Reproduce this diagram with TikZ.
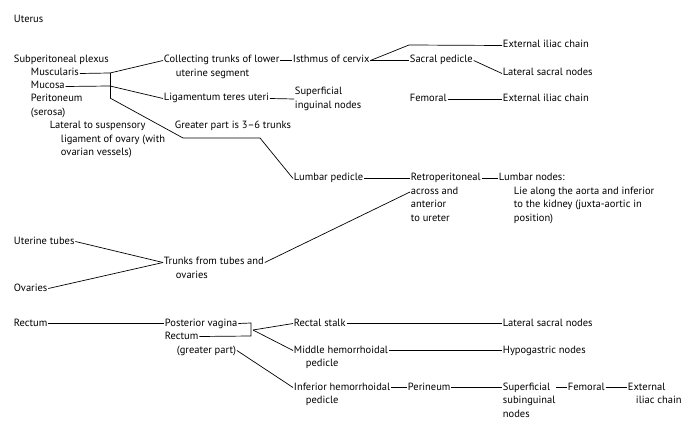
\documentclass[tikz,border=0pt]{standalone}
\usepackage{fontspec}
\setmainfont{PT Sans}
\usepackage{amsmath}
\usetikzlibrary{calc}

% several lines, baseline on the first one
\newcommand{\stk}[1]{\begin{tabular}[t]{@{}l@{}}#1\end{tabular}}

\tikzset{
  lbl/.style={anchor=base west, inner sep=0.75pt, font=\fontsize{10.5}{13.5}\selectfont},
  lnk/.style={line width=0.7pt}
}

\begin{document}
\begin{tikzpicture}[x=1pt,y=1pt,yscale=-1,xscale=1]
\useasboundingbox (0,0) rectangle (700,435);

% Text Node
\node [lbl] (uterus) at (13,23) {Uterus};
% Text Node
\node [lbl] (subper) at (13,63) {Subperitoneal plexus};
\node [lbl] (musc) at (30,76) {Muscularis};
\node [lbl] (mucosa) at (30,89) {Mucosa};
\node [lbl] (perit) at (30,102) {\stk{Peritoneum\\(serosa)}};
\node [lbl] (lateral) at (49,129) {\stk{Lateral to suspensory\\\hspace*{11pt}ligament of ovary (with\\\hspace*{11pt}ovarian vessels)}};
% Text Node
\node [lbl] (collect) at (163,63) {\stk{Collecting trunks of lower\\\hspace*{12pt}uterine segment}};
\node [lbl] (ligam) at (163,101) {Ligamentum teres uteri};
\node [lbl] (greater) at (174,129) {Greater part is 3--6 trunks};
% Text Node
\node [lbl] (isthmus) at (292,63) {Isthmus of cervix};
\node [lbl] (superf) at (294,95) {\stk{Superficial\\inguinal nodes}};
\node [lbl] (sacral) at (409,63) {Sacral pedicle};
\node [lbl] (femoral1) at (409,102) {Femoral};
% Text Node
\node [lbl] (extiliac1) at (502,48) {External iliac chain};
\node [lbl] (latsacral1) at (502,76) {Lateral sacral nodes};
\node [lbl] (extiliac2) at (502,102) {External iliac chain};
% Text Node
\node [lbl] (lumbped) at (293,181) {Lumbar pedicle};
\node [lbl] (retro) at (410,181) {\stk{Retroperitoneal\\across and\\anterior\\to ureter}};
\node [lbl] (lumbnodes) at (498,181) {\stk{Lumbar nodes:\\\hspace*{15pt}Lie along the aorta and inferior\\\hspace*{15pt}to the kidney (juxta-aortic in\\\hspace*{15pt}position)}};
% Text Node
\node [lbl] (tubes) at (13,244) {Uterine tubes};
\node [lbl] (ovaries) at (13,291) {Ovaries};
\node [lbl] (trunks) at (163,265) {\stk{Trunks from tubes and\\\hspace*{12pt}ovaries}};
% Text Node
\node [lbl] (rectum) at (13,326) {Rectum};
\node [lbl] (postvag) at (164,326) {Posterior vagina};
\node [lbl] (rectumb) at (164,339) {Rectum};
\node [lbl] (grpart) at (176,353) {(greater part)};
% Text Node
\node [lbl] (rstalk) at (293,326) {Rectal stalk};
\node [lbl] (midhem) at (293,353) {\stk{Middle hemorrhoidal\\\hspace*{12pt}pedicle}};
\node [lbl] (infhem) at (293,390) {\stk{Inferior hemorrhoidal\\\hspace*{12pt}pedicle}};
\node [lbl] (latsacral2) at (502,326) {Lateral sacral nodes};
\node [lbl] (hypog) at (502,353) {Hypogastric nodes};
\node [lbl] (perineum) at (407,390) {Perineum};
\node [lbl] (subing) at (502,390) {\stk{Superficial\\subinguinal\\nodes}};
\node [lbl] (femoral2) at (567,390) {Femoral};
\node [lbl] (extiliac3) at (627,390) {\stk{External\\\hspace*{8pt}iliac chain}};

% Junctions
\coordinate (jA) at (110,73);
\coordinate (jB) at (110,86);
\coordinate (jC) at (110,98);
\coordinate (bendA) at (183,138);
\coordinate (bendB) at (260,138);
\coordinate (bendC) at (409,45);
\coordinate (jD) at (251,323);
\coordinate (jE) at (251,336);
\coordinate (jF) at (253,330);

%Straight Lines
\draw [lnk] (musc.mid east) -- (jA);
\draw [lnk] (mucosa.mid east) -- (jB);
\draw [lnk] (jA) -- (jC);
\draw [lnk] (jA) -- (collect.mid west);
\draw [lnk] (jB) -- (ligam.mid west);
\draw [lnk] (jC) -- (bendA) -- (bendB) -- (lumbped.mid west);
%Straight Lines
\draw [lnk] (collect.mid east) -- (isthmus.mid west);
\draw [lnk] (isthmus.mid east) -- (bendC) -- (extiliac1.mid west);
\draw [lnk] (isthmus.mid east) -- (sacral.mid west);
\draw [lnk] (sacral.mid east) -- (latsacral1.mid west);
\draw [lnk] (ligam.mid east) -- ($(superf.mid west)+(0,6.5)$);
\draw [lnk] (femoral1.mid east) -- (extiliac2.mid west);
%Straight Lines
\draw [lnk] (lumbped.mid east) -- (retro.mid west);
\draw [lnk] (retro.mid east) -- (lumbnodes.mid west);
\draw [lnk] (trunks.mid east) -- ($(retro.mid west)+(0,13.5)$);
\draw [lnk] (tubes.mid east) -- (trunks.mid west);
\draw [lnk] (ovaries.mid east) -- (trunks.mid west);
%Straight Lines
\draw [lnk] (rectum.mid east) -- (postvag.mid west);
\draw [lnk] (postvag.mid east) -- (jD) -- (jE) -- (rectumb.mid east);
\draw [lnk] (jF) -- (rstalk.mid west);
\draw [lnk] (jF) -- (midhem.mid west);
\draw [lnk] (grpart.mid east) -- (infhem.mid west);
\draw [lnk] (rstalk.mid east) -- (latsacral2.mid west);
\draw [lnk] (midhem.mid east) -- (hypog.mid west);
\draw [lnk] (infhem.mid east) -- (perineum.mid west);
\draw [lnk] (perineum.mid east) -- (subing.mid west);
\draw [lnk] (subing.mid east) -- (femoral2.mid west);
\draw [lnk] (femoral2.mid east) -- (extiliac3.mid west);

\end{tikzpicture}
\end{document}
